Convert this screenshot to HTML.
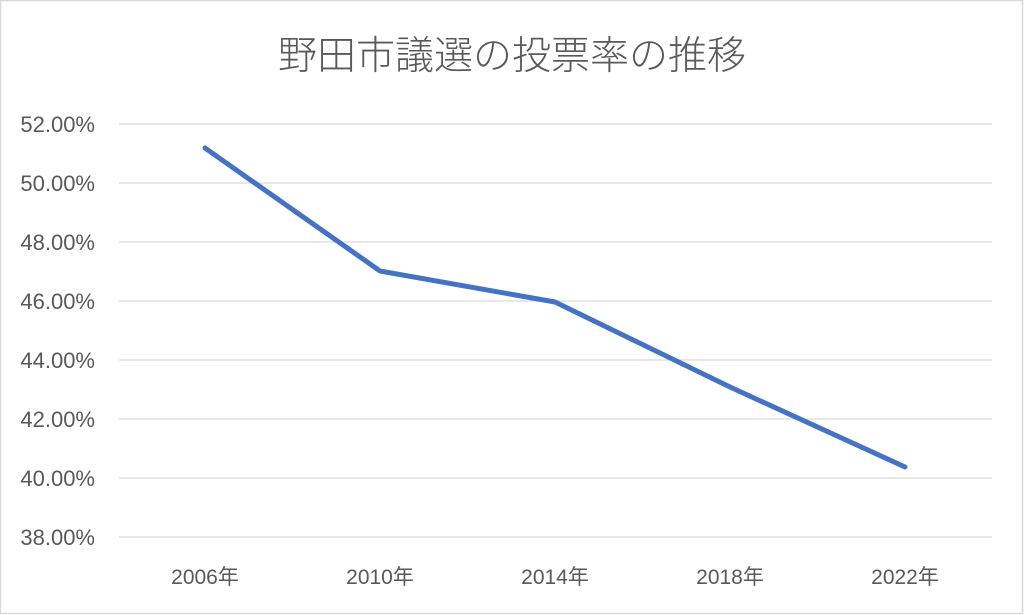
<!DOCTYPE html>
<html><head><meta charset="utf-8"><style>
html,body{margin:0;padding:0;background:#fff;}
svg{display:block;}
text{font-family:"Liberation Sans","Noto Sans CJK JP",sans-serif;fill:#595959;}
.t{font-family:"Noto Sans CJK JP",sans-serif;font-weight:300;}
</style></head><body>
<svg width="1024" height="615" viewBox="0 0 1024 615">
<rect x="0.5" y="0.5" width="1022" height="613" fill="#fff" stroke="#d9d9d9" stroke-width="1.5"/>
<text class="t" x="512" y="69" font-size="39" text-anchor="middle">野田市議選の投票率の推移</text>
<g stroke="#d9d9d9" stroke-width="1.3">
<line x1="119" x2="992" y1="124" y2="124"/>
<line x1="119" x2="992" y1="183" y2="183"/>
<line x1="119" x2="992" y1="242" y2="242"/>
<line x1="119" x2="992" y1="301" y2="301"/>
<line x1="119" x2="992" y1="360" y2="360"/>
<line x1="119" x2="992" y1="419" y2="419"/>
<line x1="119" x2="992" y1="478" y2="478"/>
<line x1="119" x2="992" y1="537" y2="537"/>
</g>
<g font-size="22" text-anchor="end">
<text x="95" y="132">52.00%</text>
<text x="95" y="191">50.00%</text>
<text x="95" y="250">48.00%</text>
<text x="95" y="309">46.00%</text>
<text x="95" y="368">44.00%</text>
<text x="95" y="427">42.00%</text>
<text x="95" y="486">40.00%</text>
<text x="95" y="545">38.00%</text>
</g>
<g font-size="21" text-anchor="middle">
<text x="205" y="584">2006年</text>
<text x="380" y="584">2010年</text>
<text x="555" y="584">2014年</text>
<text x="730" y="584">2018年</text>
<text x="905" y="584">2022年</text>
</g>
<polyline points="205,148 380,271 555,302 730,387 905,467" fill="none" stroke="#4472c4" stroke-width="5" stroke-linejoin="round" stroke-linecap="round"/>
</svg>
</body></html>
